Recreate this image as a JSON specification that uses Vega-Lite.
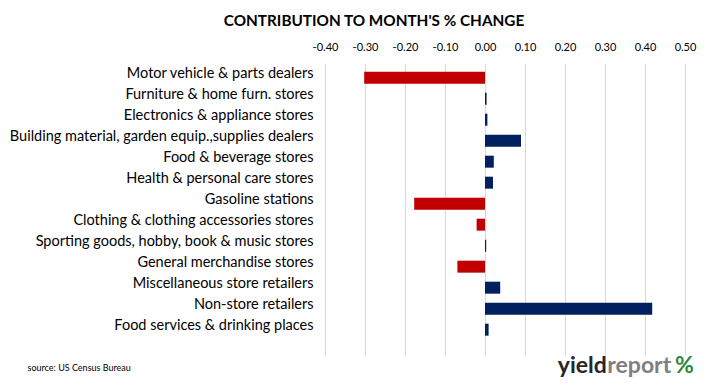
{
  "$schema": "https://vega.github.io/schema/vega-lite/v6.json",
  "width": 360,
  "height": 292,
  "autosize": "none",
  "padding": {"left": 325, "top": 63, "right": 24, "bottom": 30},
  "background": "#ffffff",
  "title": {
    "text": "CONTRIBUTION TO MONTH'S % CHANGE",
    "font": "Lato",
    "fontSize": 15.3,
    "fontWeight": "bold",
    "color": "#000000",
    "anchor": "middle",
    "frame": "group",
    "dx": -131,
    "offset": 12
  },
  "config": {"view": {"stroke": null}},
  "data": {
    "values": [
      {"category": "Motor vehicle & parts dealers", "value": -0.302},
      {"category": "Furniture & home furn. stores", "value": 0.004},
      {"category": "Electronics & appliance stores", "value": 0.006},
      {"category": "Building material, garden equip.,supplies dealers", "value": 0.09},
      {"category": "Food & beverage stores", "value": 0.022},
      {"category": "Health & personal care stores", "value": 0.02},
      {"category": "Gasoline stations ", "value": -0.177},
      {"category": "Clothing & clothing accessories stores", "value": -0.021},
      {"category": "Sporting goods, hobby, book & music stores", "value": 0.003},
      {"category": "General merchandise stores", "value": -0.069},
      {"category": "Miscellaneous store retailers", "value": 0.038},
      {"category": "Non-store retailers", "value": 0.418},
      {"category": "Food services & drinking places", "value": 0.009}
    ]
  },
  "layer": [
    {
      "mark": {"type": "bar"},
      "encoding": {
        "x": {
          "field": "value",
          "type": "quantitative",
          "scale": {"domain": [-0.4, 0.5], "nice": false, "zero": false},
          "axis": {
            "orient": "top",
            "values": [-0.4, -0.3, -0.2, -0.1, 0, 0.1, 0.2, 0.3, 0.4, 0.5],
            "format": ".2f",
            "labelExpr": "replace(datum.label, '\u2212', '-')",
            "title": null,
            "domain": false,
            "ticks": false,
            "grid": true,
            "gridColor": "#d9d9d9",
            "gridWidth": 1,
            "labelFont": "Lato",
            "labelFontSize": 11,
            "labelColor": "#000000",
            "labelPadding": 11,
            "labelFlush": false,
            "labelOverlap": false
          }
        },
        "y": {
          "field": "category",
          "type": "nominal",
          "sort": null,
          "scale": {"paddingInner": 0.43, "paddingOuter": 0.667, "align": 0.31},
          "axis": {
            "title": null,
            "domain": false,
            "ticks": false,
            "labelFont": "Lato",
            "labelFontSize": 14.5,
            "labelColor": "#000000",
            "labelPadding": 12,
            "labelOffset": -3.5,
            "labelLimit": 400
          }
        },
        "color": {
          "condition": {"test": "datum.value < 0", "value": "#C00000"},
          "value": "#002060"
        }
      }
    },
    {
      "mark": {"type": "bar", "opacity": 0},
      "encoding": {
        "x": {
          "field": "value",
          "type": "quantitative",
          "axis": {
            "orient": "bottom",
            "values": [0.3035, 0.3045, 0.474],
            "labelExpr": "datum.value < 0.304 ? 'yield' : (datum.value < 0.4 ? 'report' : '%')",
            "labelAlign": {"condition": {"test": "datum.value < 0.304", "value": "right"}, "value": "left"},
            "labelColor": {"condition": [{"test": "datum.value < 0.304", "value": "#262626"}, {"test": "datum.value < 0.4", "value": "#7f7f7f"}], "value": "#2e8540"},
            "labelFont": "Lato",
            "labelFontSize": 23,
            "labelFontWeight": "bold",
            "labelBaseline": "middle",
            "labelPadding": 10,
            "labelOverlap": false,
            "labelFlush": false,
            "labelBound": false,
            "domain": false,
            "ticks": false,
            "grid": false,
            "title": "source: US Census Bureau",
            "titleFont": "Lato",
            "titleFontSize": 9,
            "titleFontWeight": "normal",
            "titleColor": "#000000",
            "titleAlign": "left",
            "titleBaseline": "middle",
            "titleAnchor": null,
            "titleX": -298,
            "titleY": 12
          }
        },
        "y": {"field": "category", "type": "nominal", "sort": null, "axis": null}
      }
    }
  ],
  "resolve": {"axis": {"x": "independent", "y": "independent"}}
}
